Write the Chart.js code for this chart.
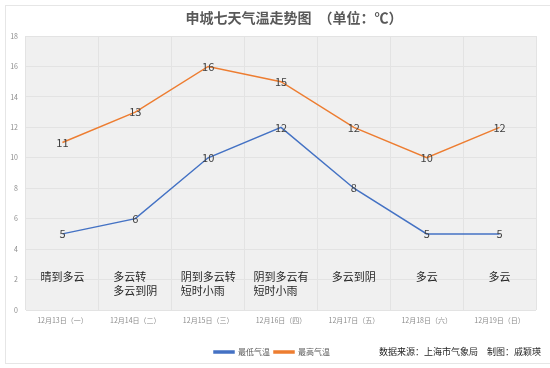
<!DOCTYPE html>
<html lang="zh-CN">
<head>
<meta charset="UTF-8">
<title>申城七天气温走势图</title>
<script src="https://cdn.jsdelivr.net/npm/chart.js"></script>
<style>
    html, body { margin: 0; padding: 0; background: #fff; }
    #wrap { width: 550px; height: 368px; position: relative; }
</style>
</head>
<body>
<div id="wrap"><canvas id="tempChart"></canvas></div>
<script>
// --- data ---
const days = ['12月13日（一）', '12月14日（二）', '12月15日（三）', '12月16日（四）', '12月17日（五）', '12月18日（六）', '12月19日（日）'];
const lowTemps = [5, 6, 10, 12, 8, 5, 5];
const highTemps = [11, 13, 16, 15, 12, 10, 12];
const weather = [['晴到多云'], ['多云转', '多云到阴'], ['阴到多云转', '短时小雨'], ['阴到多云有', '短时小雨'], ['多云到阴'], ['多云'], ['多云']];
const yTicks = [0, 2, 4, 6, 8, 10, 12, 14, 16, 18];

const FONT = "'Noto Sans CJK SC', 'Noto Sans', sans-serif";

// background, frame, title, labels, weather text, source
const decorPlugin = {
    id: 'decor',
    beforeDraw(chart) {
        const ctx = chart.ctx, a = chart.chartArea;
        ctx.save();
        ctx.fillStyle = '#fff';
        ctx.fillRect(0, 0, chart.width, chart.height);
        ctx.strokeStyle = '#e6e6e6';
        ctx.lineWidth = 1;
        ctx.strokeRect(5.5, 5.5, 560, 358);
        ctx.fillStyle = '#f0f0f0';
        ctx.fillRect(a.left, a.top, a.right - a.left, a.bottom - a.top);
        ctx.restore();
    },
    afterDatasetsDraw(chart) {
        const ctx = chart.ctx, x = chart.scales.x, y = chart.scales.y;
        ctx.save();
        // title
        ctx.fillStyle = '#595959';
        ctx.font = 'bold 14px ' + FONT;
        ctx.textAlign = 'center';
        ctx.textBaseline = 'middle';
        ctx.fillText('申城七天气温走势图　（单位：℃）', 294, 18);

        // data labels
        ctx.font = '11px ' + FONT;
        ctx.fillStyle = '#404040';
        chart.data.datasets.forEach((ds, di) => {
            const meta = chart.getDatasetMeta(di);
            meta.data.forEach((pt, i) => {
                ctx.fillText(String(ds.data[i]), pt.x, pt.y);
            });
        });

        // weather text
        ctx.font = '11px ' + FONT;
        ctx.fillStyle = '#262626';
        ctx.textAlign = 'left';
        weather.forEach((lines, i) => {
            const cx = x.getPixelForValue(i);
            const w = Math.max(...lines.map(t => ctx.measureText(t).width));
            lines.forEach((t, j) => {
                ctx.fillText(t, cx - w / 2, y.getPixelForValue(2.2) + j * 14);
            });
        });

        // source
        ctx.font = '9px ' + FONT;
        ctx.fillStyle = '#262626';
        ctx.textAlign = 'right';
        ctx.fillText('数据来源：上海市气象局　制图：戚颖瑛', 541, 352);
        ctx.restore();
    }
};

new Chart(document.getElementById('tempChart'), {
    type: 'line',
    data: {
        labels: days,
        datasets: [
            { label: '最低气温', data: lowTemps, borderColor: '#4472c4', backgroundColor: '#4472c4', borderWidth: 1.5, pointRadius: 0, tension: 0 },
            { label: '最高气温', data: highTemps, borderColor: '#ed7d31', backgroundColor: '#ed7d31', borderWidth: 1.5, pointRadius: 0, tension: 0 }
        ]
    },
    options: {
        responsive: true,
        maintainAspectRatio: false,
        animation: false,
        layout: { padding: { left: 8, right: 14, top: 36, bottom: 2 } },
        plugins: {
            legend: {
                position: 'bottom',
                labels: {
                    font: { size: 8, family: FONT },
                    color: '#595959',
                    boxWidth: 20,
                    boxHeight: 2,
                    padding: 4
                }
            },
            tooltip: { enabled: false }
        },
        scales: {
            x: {
                offset: true,
                grid: { color: '#e3e3e3', offset: true, drawTicks: false },
                border: { display: false },
                ticks: { color: '#8c8c8c', font: { size: 7, family: FONT }, maxRotation: 0, autoSkip: false, padding: 6 },
                afterFit(s) { s.height = 34; }
            },
            y: {
                min: 0,
                max: 18,
                afterBuildTicks(s) { s.ticks = yTicks.map(v => ({ value: v })); },
                grid: { color: '#e3e3e3', drawTicks: false },
                border: { display: false },
                ticks: { color: '#8c8c8c', font: { size: 7, family: FONT }, padding: 8 },
                afterFit(s) { s.width = 18; }
            }
        }
    },
    plugins: [decorPlugin]
});
</script>
</body>
</html>
